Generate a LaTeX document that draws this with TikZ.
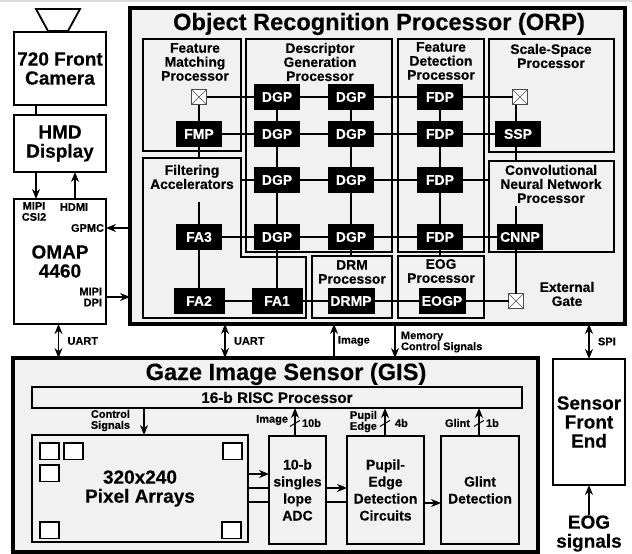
\documentclass[tikz,border=0pt]{standalone}
\usepackage{fontspec}
\setmainfont{Liberation Sans}[BoldFeatures={FakeBold=0.3}]
\usepackage{xcolor}
\usetikzlibrary{positioning,arrows.meta}
\definecolor{panel}{HTML}{F1F1F1}

\begin{document}
\begin{tikzpicture}[x=1pt, y=-1pt, every node/.style={font=\bfseries, inner sep=0pt, outer sep=0pt},
      mainbox/.style={draw=black, line width=4pt, fill=panel},
      blk/.style={draw=black, line width=1.8pt, anchor=north west, align=center},
      big/.style={font=\bfseries\fontsize{19}{19}\selectfont},
      mid/.style={font=\bfseries\fontsize{14}{17}\selectfont},
      lab/.style={font=\bfseries\fontsize{13.8}{14}\selectfont, align=center},
      sm/.style={font=\bfseries\fontsize{11}{11}\selectfont},
      title/.style={font=\bfseries\fontsize{23.6}{24}\selectfont},
      pe/.style={fill=black, text=white, font=\bfseries\fontsize{14}{14}\selectfont, minimum width=46pt, minimum height=26pt},
      gate/.style={draw=black!70, line width=.7pt, fill=white, minimum size=15pt,
        path picture={\draw[black!70, line width=.5pt] (path picture bounding box.south west) -- (path picture bounding box.north east)
          (path picture bounding box.north west) -- (path picture bounding box.south east);}},
      pix/.style={draw=black, line width=1.4pt, fill=white, minimum width=19pt, minimum height=16.5pt, anchor=north west},
      wire/.style={line width=1.8pt},
      arr/.style={line width=1.8pt, -{Stealth[length=10pt, width=8pt]}},
      darr/.style={line width=1.8pt, {Stealth[length=10pt, width=8pt]}-{Stealth[length=10pt, width=8pt]}},
      slash/.style={line width=1pt}]
    \useasboundingbox (0,0) rectangle (632,554);
    \fill[black!15] (0,0) rectangle (632,2);

    % left column
    \draw[line width=1.8pt] (36,9) -- (80,9) -- (68,31) -- (48,31) -- cycle;
    \node[blk, big, fill=white, minimum width=92pt, minimum height=73pt] (camera) at (14,32) {720 Front\\Camera};
    \node[blk, big, fill=white, minimum width=92pt, minimum height=57pt, below=10pt of camera] (hmd) {HMD\\Display};
    \node[blk, big, fill=white, minimum width=92pt, minimum height=125pt, below=27pt of hmd] (omap) {OMAP\\4460};
    \draw[wire] ([xshift=-24pt]camera.south) -- ([xshift=-24pt]hmd.north);
    \draw[arr] ([xshift=-24pt]hmd.south) -- ([xshift=-24pt]omap.north);
    \draw[arr] ([xshift=15pt]omap.north) -- ([xshift=15pt]hmd.south);
    \node[sm, align=center] (csi) at (34,211.5) {MIPI\\CSI2};
    \node[sm] (hdmi) at (74,207) {HDMI};
    \node[sm, anchor=east] (gpmc) at (104,228) {GPMC};
    \node[sm, anchor=east, align=right] (dpi) at (102,297) {MIPI\\DPI};

    % ORP
    \node[mainbox, minimum width=495pt, minimum height=316pt, anchor=north west] (orp) at (130,8) {};
    \node[title] (orptitle) at (379,24) {Object Recognition Processor (ORP)};
    \node[blk, minimum width=98pt, minimum height=112pt] (fmblk) at (143,39) {};
    \node[blk, minimum width=146pt, minimum height=213pt] (dgblk) at (246,39) {};
    \node[blk, minimum width=86pt, minimum height=213pt] (fdblk) at (398,39) {};
    \node[blk, minimum width=125pt, minimum height=113pt] (ssblk) at (489,39) {};
    \node[blk, minimum width=125pt, minimum height=91pt] (cnnblk) at (489,161) {};
    \node[blk, minimum width=80pt, minimum height=62pt] (drmblk) at (312,256) {};
    \node[blk, minimum width=86pt, minimum height=62pt] (eogblk) at (398,256) {};
    \draw[wire] (143,158) -- (241,158) -- (241,257) -- (306,257) -- (306,318) -- (143,318) -- cycle;
    \coordinate (filttop) at (199,158);
    \coordinate (filtedge) at (241,180);
    \coordinate (fastub) at (199,202);
    \coordinate (cnnstub) at (516,206);

    \node[lab] (fmlab) at (195,62) {Feature\\Matching\\Processor};
    \node[lab] (dglab) at (320,62) {Descriptor\\Generation\\Processor};
    \node[lab] (fdlab) at (441,61) {Feature\\Detection\\Processor};
    \node[lab] (sslab) at (551,56) {Scale-Space\\Processor};
    \node[lab] (filtlab) at (192,177) {Filtering\\Accelerators};
    \node[lab] (cnnlab) at (551,184) {Convolutional\\Neural Network\\Processor};
    \node[lab] (drmlab) at (352,272) {DRM\\Processor};
    \node[lab] (eoglab) at (441,271) {EOG\\Processor};
    \node[lab] (gatelab) at (567,294) {External\\Gate};

    % processing elements
    \node[pe] (dga) at (277,97) {DGP};
    \node[pe, right=28pt of dga] (dgb) {DGP};
    \node[pe, right=43pt of dgb] (fda) {FDP};
    \node[pe, below=11pt of dga] (dgc) {DGP};
    \node[pe, right=28pt of dgc] (dgd) {DGP};
    \node[pe, right=43pt of dgd] (fdb) {FDP};
    \node[pe, below=20pt of dgc] (dge) {DGP};
    \node[pe, right=28pt of dge] (dgf) {DGP};
    \node[pe, right=43pt of dgf] (fdc) {FDP};
    \node[pe, below=31pt of dge] (dgg) {DGP};
    \node[pe, right=28pt of dgg] (dgh) {DGP};
    \node[pe, right=43pt of dgh] (fdd) {FDP};
    \node[pe, left=32pt of dgc] (fmp) {FMP};
    \node[pe, right=32pt of fdb] (ssp) {SSP};
    \node[pe, left=32pt of dgg] (fathree) {FA3};
    \node[pe, right=34pt of fdd] (cnnp) {CNNP};
    \node[pe, minimum width=51pt] (fatwo) at (199,301) {FA2};
    \node[pe, minimum width=51pt, right=27pt of fatwo] (faone) {FA1};
    \node[pe, minimum width=47pt] (drmp) at (351,301) {DRMP};
    \node[pe, minimum width=47pt] (eogp) at (442,301) {EOGP};
    \node[gate] (gatea) at (199,97) {};
    \node[gate] (gateb) at (520,97) {};
    \node[gate] (gatec) at (516,301) {};
    \coordinate (cnnedge) at (489,180);

    \draw[wire] (gatea) -- (dga);
    \draw[wire] (dga) -- (dgb);
    \draw[wire] (dgb) -- (fda);
    \draw[wire] (fda) -- (gateb);
    \draw[wire] (fmp) -- (dgc);
    \draw[wire] (dgc) -- (dgd);
    \draw[wire] (dgd) -- (fdb);
    \draw[wire] (fdb) -- (ssp);
    \draw[wire] (filtedge) -- (dge);
    \draw[wire] (dge) -- (dgf);
    \draw[wire] (dgf) -- (fdc);
    \draw[wire] (fdc) -- (cnnedge);
    \draw[wire] (fathree) -- (dgg);
    \draw[wire] (dgg) -- (dgh);
    \draw[wire] (dgh) -- (fdd);
    \draw[wire] (fdd) -- (cnnp);
    \draw[wire] (fatwo) -- (faone);
    \draw[wire] (faone) -- (drmp);
    \draw[wire] (drmp) -- (eogp);
    \draw[wire] (eogp) -- (gatec);
    \draw[wire] (dga) -- (dgc);
    \draw[wire] (dgc) -- (dge);
    \draw[wire] (dge) -- (dgg);
    \draw[wire] (dgg) -- (faone);
    \draw[wire] (dgb) -- (dgd);
    \draw[wire] (dgd) -- (dgf);
    \draw[wire] (dgf) -- (dgh);
    \draw[wire] (dgh) -- (dgh |- drmblk.north);
    \draw[wire] (fda) -- (fdb);
    \draw[wire] (fdb) -- (fdc);
    \draw[wire] (fdc) -- (fdd);
    \draw[wire] (fdd) -- (fdd |- eogblk.north);
    \draw[wire] (gatea) -- (fmp);
    \draw[wire] (fmp) -- (filttop);
    \draw[wire] (fastub) -- (fathree);
    \draw[wire] (fathree) -- (fatwo);
    \draw[wire] ([xshift=-4pt]gateb.south) -- ([xshift=-2pt]ssp.north);
    \draw[wire] ([xshift=-2pt]ssp.south) -- ([xshift=-2pt]ssp.south |- cnnblk.north);
    \draw[wire] (cnnstub) -- (cnnstub |- cnnp.north);
    \draw[wire] (cnnp.south -| gatec) -- (gatec);

    % links to the ORP
    \draw[arr] (orp.west |- gpmc) -- (gpmc.east -| omap.east);
    \draw[arr] (omap.east |- dpi) -- (orp.west |- dpi);

    % GIS
    \node[mainbox, minimum width=525pt, minimum height=194pt, anchor=north west] (gis) at (13,358) {};
    \node[title] (gistitle) at (286,374) {Gaze Image Sensor (GIS)};
    \node[blk, font=\bfseries\fontsize{15.3}{15}\selectfont, minimum width=490pt, minimum height=21pt] (risc) at (32,387) {16-b RISC Processor};
    \node[blk, big, minimum width=216pt, minimum height=107pt] (pixels) at (32,435) {320x240\\Pixel Arrays};
    \node[blk, mid, minimum width=57pt, minimum height=108pt] (adc) at (269,436) {10-b\\singles\\lope\\ADC};
    \node[blk, mid, minimum width=77pt, minimum height=108pt] (pupil) at (347,436) {Pupil-\\Edge\\Detection\\Circuits};
    \node[blk, mid, minimum width=78pt, minimum height=108pt] (glint) at (441,436) {Glint\\Detection};
    \node[pix] (pixa) at (40,443) {};
    \node[pix] (pixb) at (64,443) {};
    \node[pix] (pixc) at (40,465) {};
    \node[pix] (pixd) at (223,443) {};
    \node[pix] (pixe) at (40,522) {};
    \node[pix] (pixf) at (222,522) {};

    \draw[arr] (pixels.east |- 0,474) -- (adc.west |- 0,474);
    \draw[wire] (pixels.east |- 0,488) -- (adc.west |- 0,488);
    \draw[wire] (pixels.east |- 0,502) -- (adc.west |- 0,502);
    \draw[arr] (adc.east |- 0,488) -- (pupil.west |- 0,488);
    \draw[wire] (adc.east |- 0,502) -- (pupil.west |- 0,502);
    \draw[arr] (pupil.east |- 0,503) -- (glint.west |- 0,503);
    \draw[arr] (risc.south -| 144,0) -- (pixels.north -| 144,0);
    \node[sm, anchor=east, align=right] (ctrl) at (130,420.5) {Control\\Signals};

    \draw[arr] (adc.north -| 295,0) -- coordinate[pos=.45] (sla) (risc.south -| 295,0);
    \draw[arr] (pupil.north -| 385,0) -- coordinate[pos=.45] (slb) (risc.south -| 385,0);
    \draw[arr] (glint.north -| 479,0) -- coordinate[pos=.45] (slc) (risc.south -| 479,0);
    \draw[slash] ([shift={(-5,3)}]sla) -- ([shift={(5,-3)}]sla);
    \draw[slash] ([shift={(-5,3)}]slb) -- ([shift={(5,-3)}]slb);
    \draw[slash] ([shift={(-5,3)}]slc) -- ([shift={(5,-3)}]slc);
    \node[sm, anchor=east] (imglab) at (288,420) {Image};
    \node[sm, anchor=west] (tenb) at (302,423) {10b};
    \node[sm, anchor=west, align=left] (edge) at (350,421.5) {Pupil\\Edge};
    \node[sm, anchor=west] (fourb) at (395,423) {4b};
    \node[sm, anchor=east] (glab) at (470,423) {Glint};
    \node[sm, anchor=west] (oneb) at (486,423) {1b};

    % sensor front end
    \node[blk, big, fill=white, minimum width=72pt, minimum height=126pt] (front) at (553,359) {Sensor\\Front\\End};
    \node[big, align=center] (eog) at (589,533.5) {EOG\\signals};
    \draw[arr] (eog) -- (front);

    % links between blocks
    \draw[darr] (omap.south -| 58.5,0) -- (gis.north -| 58.5,0) node[midway, right=9pt, sm] (uarta) {UART};
    \draw[darr] (orp.south -| 225,0) -- (gis.north -| 225,0) node[midway, right=9pt, sm] (uartb) {UART};
    \draw[arr] (gis.north -| 334,0) -- (orp.south -| 334,0) node[midway, right=4pt, sm] (imgb) {Image};
    \draw[arr] (orp.south -| 395,0) -- (gis.north -| 395,0);
    \node[sm, anchor=west, align=left] (mem) at (401,342) {Memory\\Control Signals};
    \draw[darr] (orp.south -| 589,0) -- (front.north -| 589,0) node[midway, right=9pt, sm] (spi) {SPI};
  \end{tikzpicture}
\end{document}
